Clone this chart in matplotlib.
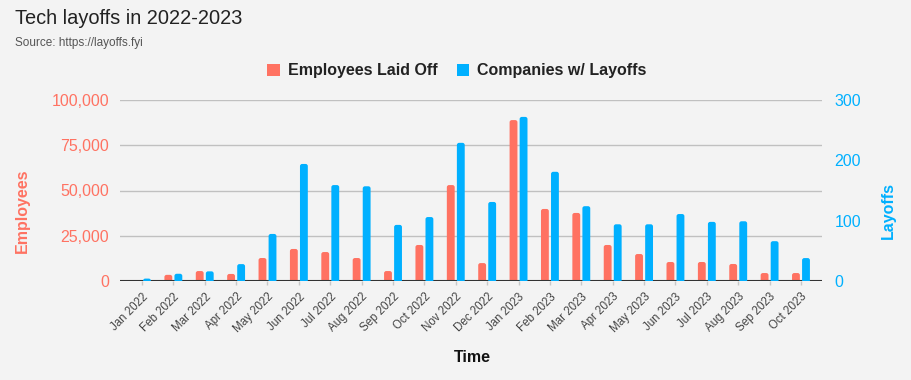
import matplotlib
matplotlib.use("Agg")
import matplotlib.pyplot as plt
import numpy as np
from matplotlib.patches import Patch, FancyBboxPatch
from matplotlib.ticker import FuncFormatter

plt.rcParams['font.family'] = ['Liberation Sans', 'DejaVu Sans']

months = ["Jan 2022", "Feb 2022", "Mar 2022", "Apr 2022", "May 2022", "Jun 2022",
          "Jul 2022", "Aug 2022", "Sep 2022", "Oct 2022", "Nov 2022", "Dec 2022",
          "Jan 2023", "Feb 2023", "Mar 2023", "Apr 2023", "May 2023", "Jun 2023",
          "Jul 2023", "Aug 2023", "Sep 2023", "Oct 2023"]
employees = [510, 3400, 5500, 3900, 12700, 17700, 16000, 12700, 5500, 19900, 53000, 9900,
             88900, 39800, 37600, 19900, 14900, 10500, 10500, 9400, 4400, 4400]
companies = [4, 12, 16, 28, 78, 194, 159, 157, 93, 106, 229, 131,
             272, 181, 124, 94, 94, 111, 98, 99, 66, 38]

RED = "#ff7262"
BLUE = "#00b0ff"
BG = "#f3f3f3"

fig = plt.figure(figsize=(9.12, 3.8), dpi=100, facecolor=BG)
ax = fig.add_axes([120/912, 1-281/380, 702/912, 181/380])
ax.set_facecolor(BG)
ax2 = ax.twinx()

x = np.arange(len(months))
w = 0.25
off = 0.16
XLIM = (-0.70, 21.67)
ax.set_ylim(0, 100000)
ax2.set_ylim(0, 300)
ax.set_xlim(*XLIM)

bars1 = ax.bar(x - off, employees, width=w, color=RED, zorder=3)
bars2 = ax2.bar(x + off, companies, width=w, color=BLUE, zorder=3)


def round_tops(a, bars, ymax, color):
    # radius of ~2 px expressed in data units
    px_x = (XLIM[1] - XLIM[0]) / 702.0
    px_y = ymax / 181.0
    rx = 2.2 * px_x
    ry = 2.2 * px_y
    for b in list(bars):
        bx, bw, bh = b.get_x(), b.get_width(), b.get_height()
        b.remove()
        p = FancyBboxPatch((bx, -ry), bw, bh + ry,
                           boxstyle=f"round,pad=0,rounding_size={rx}",
                           mutation_aspect=ry / rx, facecolor=color,
                           edgecolor='none', zorder=3)
        a.add_patch(p)


round_tops(ax, bars1, 100000, RED)
round_tops(ax2, bars2, 300, BLUE)

ax.set_ylim(0, 100000)
ax2.set_ylim(0, 300)
ax.set_xlim(*XLIM)
ax.set_yticks([0, 25000, 50000, 75000, 100000])
ax2.set_yticks([0, 100, 200, 300])
ax.yaxis.set_major_formatter(FuncFormatter(lambda v, p: f"{int(v):,}"))

ax.grid(axis='y', color='#c0c0c0', linewidth=1.0, zorder=0)
ax.set_axisbelow(True)
for a in (ax, ax2):
    for s in a.spines.values():
        s.set_visible(False)
ax.axhline(0, color='#333333', linewidth=1.5, zorder=4)

ax.tick_params(axis='y', labelcolor=RED, labelsize=11.5, length=0, pad=8)
ax2.tick_params(axis='y', labelcolor=BLUE, labelsize=11.5, length=0, pad=9)
ax.tick_params(axis='x', colors='#c8c8c8', labelcolor='#444444', labelsize=8.3, length=3, width=1, pad=4)

ax.set_xticks(x)
ax.set_xticklabels(months, rotation=45, ha='right', rotation_mode='anchor')

fig.text(22/912, 1-211/380, "Employees", color=RED, fontsize=11.5, fontweight='bold',
         rotation=90, ha='center', va='center')
fig.text(888/912, 1-211/380, "Layoffs", color=BLUE, fontsize=11.5, fontweight='bold',
         rotation=90, ha='center', va='center')
ax.set_xlabel("Time", color='#111111', fontsize=11.5, fontweight='bold')
ax.xaxis.set_label_coords((472-120)/702, (281-358)/181)
ax.xaxis.label.set_va('center')

fig.text(15/912, 1-19/380, "Tech layoffs in 2022-2023", fontsize=14.4, color='#222222', va='center', ha='left')
fig.text(15/912, 1-43/380, "Source: https://layoffs.fyi", fontsize=8.5, color='#555555', va='center', ha='left')

handles = [Patch(facecolor=RED, label="Employees Laid Off"),
           Patch(facecolor=BLUE, label="Companies w/ Layoffs")]
leg = fig.legend(handles=handles, loc='center', bbox_to_anchor=(457/912, 1-71/380), ncol=2,
                 frameon=False, handlelength=0.8, handleheight=0.8, handletextpad=0.5,
                 columnspacing=1.2, prop={'weight': 'bold', 'size': 11.5})
for t in leg.get_texts():
    t.set_color('#222222')

fig.savefig("out.png", dpi=100, facecolor=BG)
